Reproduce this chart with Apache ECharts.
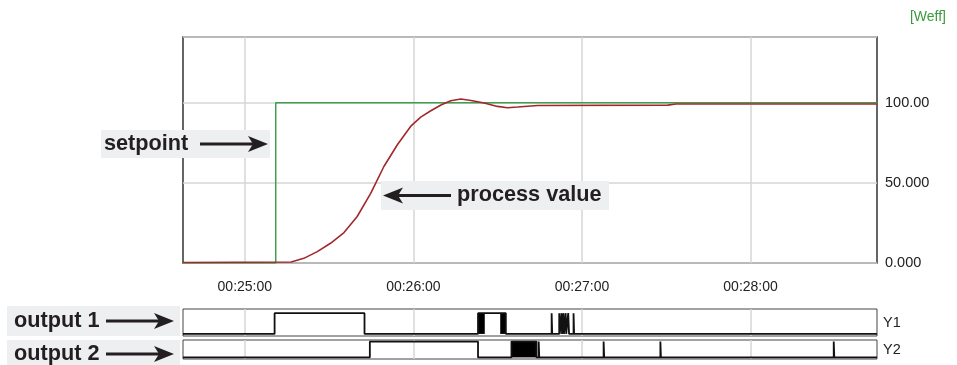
<!DOCTYPE html>
<html>
<head>
<meta charset="utf-8">
<script src="https://cdn.jsdelivr.net/npm/echarts@6/dist/echarts.min.js"></script>
<style>
  html, body { margin: 0; padding: 0; background: #fff; }
  #main { width: 957px; height: 365px; }
</style>
</head>
<body>
<div id="main"></div>
<script>
// time axis (seconds since 00:00:00)
var tMin = 1478
var tMax = 1725
var xTickValues = [1500, 1560, 1620, 1680]
var xTickLabels = ["00:25:00", "00:26:00", "00:27:00", "00:28:00"]
var yTickValues = [0, 50, 100]
var yTickLabels = ["0.000", "50.000", "100.00"]

// setpoint (step)
var spTimes = [1478, 1511, 1725]
var spValues = [0, 100, 100]

// process value
var pvTimes = [1478, 1516.5, 1521, 1525.8, 1530.5, 1535.3, 1540, 1544.8, 1549.5, 1554.3, 1559, 1562.6, 1566.2, 1569.8, 1573.3, 1576.9, 1580.5, 1585.2, 1589.9, 1593.5, 1597.1, 1604.2, 1650.5, 1653.5, 1725]
var pvValues = [0.3, 0.6, 2.9, 7.1, 12.3, 19, 29, 43.5, 60.2, 73.8, 85.2, 91, 95, 98.6, 101.2, 102.3, 101.4, 99.8, 97.7, 96.9, 97.3, 98.3, 98.5, 99.2, 99.2]

// output 1: switching times and new level
var out1Times = [1478, 1510.6, 1542.6, 1583.0, 1592.9, 1609.2, 1609.4, 1611.9, 1612.1, 1612.7, 1612.9, 1613.4, 1613.6, 1614.2, 1614.4, 1615.1, 1615.4, 1617.0, 1617.2, 1725]
var out1Levels = [0, 1, 0, 1, 0, 1, 0, 1, 0, 1, 0, 1, 0, 1, 0, 1, 0, 1, 0, 0]
var out1Bursts = [[1583.0, 1585.4], [1590.9, 1592.9]]

// output 2
var out2Times = [1478, 1544.5, 1583.0, 1594.9, 1603.8, 1604.6, 1604.8, 1627.7, 1627.9, 1647.9, 1648.1, 1709.6, 1709.8, 1725]
var out2Levels = [0, 1, 0, 1, 0, 1, 0, 1, 0, 1, 0, 1, 0, 0]
var out2Bursts = [[1594.9, 1603.8]]

function zip(a, b) {
  return a.map(function (v, i) { return [v, b[i]] })
}

function timeAxis(gridIndex, showLabels) {
  return {
    type: "value",
    gridIndex: gridIndex,
    min: tMin,
    max: tMax,
    axisLine: { show: false },
    axisTick: { show: false, customValues: xTickValues },
    axisLabel: {
      show: showLabels,
      customValues: xTickValues,
      margin: 17,
      fontFamily: "Liberation Sans",
      fontSize: 14,
      color: "#222",
      formatter: function (v) {
        var i = xTickValues.indexOf(v)
        return i >= 0 ? xTickLabels[i] : ""
      }
    },
    splitLine: { show: true, lineStyle: { color: "#d6d6d6", width: 1.5 } }
  }
}

function stripAxis(gridIndex, name) {
  return {
    type: "value",
    gridIndex: gridIndex,
    position: "right",
    min: -0.1,
    max: gridIndex === 1 ? 1.2 : 1.1,
    axisLine: { show: false },
    axisTick: { show: false },
    axisLabel: { show: false },
    splitLine: { show: false },
    name: name,
    nameLocation: "middle",
    nameRotate: 0,
    nameGap: 6,
    nameTextStyle: { fontFamily: "Liberation Sans", fontSize: 14.5, color: "#222", align: "left", verticalAlign: "middle" }
  }
}

function burstSeries(idx, bursts) {
  return {
    type: "custom",
    xAxisIndex: idx,
    yAxisIndex: idx,
    encode: { x: [0, 1] },
    data: bursts,
    silent: true,
    renderItem: function (params, api) {
      var p0 = api.coord([api.value(0), 1])
      var p1 = api.coord([api.value(1), 0])
      return {
        type: "rect",
        shape: { x: p0[0], y: p0[1], width: p1[0] - p0[0], height: p1[1] - p0[1] },
        style: { fill: "#000" }
      }
    }
  }
}

function stepSeries(idx, times, levels) {
  return {
    type: "line",
    xAxisIndex: idx,
    yAxisIndex: idx,
    step: "end",
    showSymbol: false,
    data: zip(times, levels),
    lineStyle: { color: "#111", width: 1.8 }
  }
}

// grey annotation box with bold text and an arrow
function label(x, y, w, h, text, arrowFrom, arrowTo, textX) {
  var dir = arrowTo > arrowFrom ? 1 : -1
  var cy = y + h / 2
  return [
    { type: "rect", shape: { x: x, y: y, width: w, height: h }, style: { fill: "#eeeff1" }, z: 10 },
    {
      type: "text", x: textX, y: cy, z: 11,
      style: { text: text, font: "bold 21.7px 'Liberation Sans'", fill: "#231f20", verticalAlign: "middle" }
    },
    {
      type: "line", z: 11,
      shape: { x1: arrowFrom, y1: cy, x2: arrowTo - dir * 12, y2: cy },
      style: { stroke: "#231f20", lineWidth: 3 }
    },
    {
      type: "polygon", z: 11,
      shape: { points: [[arrowTo, cy], [arrowTo - dir * 20, cy - 8], [arrowTo - dir * 15, cy], [arrowTo - dir * 20, cy + 8]] },
      style: { fill: "#231f20" }
    }
  ]
}

var chartDom = document.getElementById("main")
var myChart = echarts.init(chartDom)
var option = {
  animation: false,
  title: {
    text: "[Weff]",
    right: 6,
    top: 5,
    textStyle: { fontFamily: "Liberation Sans", fontSize: 14, fontWeight: "normal", color: "#3c9a3c" }
  },
  grid: [
    { left: 183, top: 37, width: 694, height: 226, show: true, borderColor: "#333", borderWidth: 1.5 },
    { left: 183, top: 309, width: 694, height: 27, show: true, borderColor: "#444", borderWidth: 1 },
    { left: 183, top: 340, width: 694, height: 25, show: true, borderColor: "#444", borderWidth: 1 }
  ],
  xAxis: [timeAxis(0, true), timeAxis(1, false), timeAxis(2, false)],
  yAxis: [
    {
      type: "value",
      gridIndex: 0,
      position: "right",
      min: 0,
      max: 141,
      interval: 50,
      axisLine: { show: false },
      axisTick: { show: false },
      axisLabel: {
        margin: 8,
        fontFamily: "Liberation Sans",
        fontSize: 14.5,
        color: "#222",
        formatter: function (v) {
          var i = yTickValues.indexOf(v)
          return i >= 0 ? yTickLabels[i] : ""
        }
      },
      splitLine: { show: true, lineStyle: { color: "#d6d6d6", width: 1.5 } }
    },
    stripAxis(1, "Y1"),
    stripAxis(2, "Y2")
  ],
  series: [
    {
      name: "setpoint",
      type: "line",
      step: "end",
      showSymbol: false,
      data: zip(spTimes, spValues),
      lineStyle: { color: "#3d9e4d", width: 1.5 }
    },
    {
      name: "process value",
      type: "line",
      showSymbol: false,
      data: zip(pvTimes, pvValues),
      lineStyle: { color: "#a3282c", width: 1.6 }
    },
    stepSeries(1, out1Times, out1Levels),
    burstSeries(1, out1Bursts),
    stepSeries(2, out2Times, out2Levels),
    burstSeries(2, out2Bursts)
  ],
  graphic: [].concat(
    label(101, 130, 169, 28, "setpoint", 200, 268, 104),
    label(381, 181, 228, 29, "process value", 451, 383, 457),
    label(7, 306, 173, 30, "output 1", 106, 174, 14),
    label(7, 340, 173, 28, "output 2", 106, 174, 14)
  )
}
option && myChart.setOption(option)
window.addEventListener("resize", function () {
  myChart.resize()
})
</script>
</body>
</html>
